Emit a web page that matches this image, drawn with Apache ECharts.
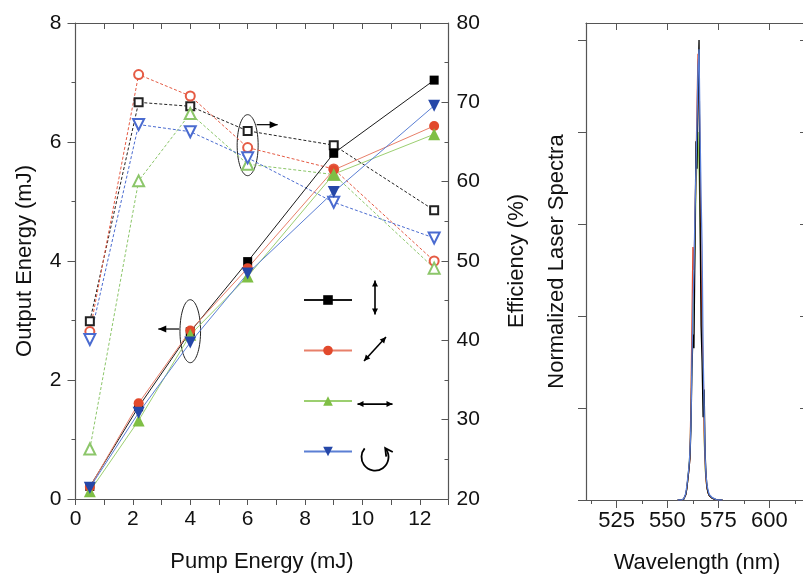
<!DOCTYPE html>
<html><head><meta charset="utf-8">
<script src="https://cdn.jsdelivr.net/npm/echarts@6/dist/echarts.min.js"></script>
<style>html,body{margin:0;padding:0;background:#fff}#c{width:803px;height:577px}</style>
</head><body><div id="c"></div>
<script>
// ---------- data ----------
const pump = [0.5, 2.2, 4, 6, 9, 12.5];
// output energy (mJ), solid lines, filled markers
const outVertical   = [0.21, 1.55, 2.81, 3.99, 5.81, 7.04];
const outDiagonal   = [0.20, 1.61, 2.83, 3.88, 5.53, 6.27];
const outHorizontal = [0.13, 1.32, 2.76, 3.74, 5.46, 6.13];
const outCircular   = [0.19, 1.45, 2.63, 3.79, 5.16, 6.61];
// efficiency (%), dashed lines, open markers
const effVertical   = [42.4, 70.0, 69.5, 66.4, 64.6, 56.4];
const effDiagonal   = [41.1, 73.5, 70.8, 64.3, 61.6, 50.0];
const effHorizontal = [26.3, 60.1, 68.6, 62.2, 60.9, 49.1];
const effCircular   = [40.1, 67.2, 66.3, 63.0, 57.4, 52.9];
// tick labels
const pumpLabels = [0, 2, 4, 6, 8, 10, 12];
const wlMajor = [525, 550, 575, 600];
const wlMinor = [512.5, 537.5, 562.5, 587.5, 612.5];
const specTicks = [0, 0.2, 0.4, 0.6, 0.8, 1.0];
// normalized laser spectra
const wavelength = [555,556,557,558,558.5,559,559.5,560,560.5,561,561.5,562,562.5,563,563.5,564,564.5,565,565.5,566,566.5,567,567.5,568,568.5,569,569.5,570,570.5,571,572,573,574,575,577];
const specBlack = [0,0,0,0.002,0.005,0.012,0.025,0.045,0.065,0.09,0.15,0.28,0.36,0.33,0.55,0.78,0.72,0.9,1.0,0.62,0.38,0.3,0.18,0.24,0.1,0.05,0.025,0.015,0.01,0.007,0.004,0.002,0.001,0,0];
const specRed   = [0,0,0,0.002,0.006,0.012,0.025,0.045,0.065,0.09,0.2,0.38,0.55,0.5,0.6,0.72,0.85,0.97,0.88,0.76,0.5,0.35,0.3,0.15,0.08,0.04,0.025,0.015,0.01,0.006,0.004,0.002,0.001,0,0];
const specGreen = [0,0,0,0.002,0.006,0.012,0.025,0.045,0.07,0.1,0.18,0.32,0.4,0.46,0.55,0.68,0.74,0.8,0.72,0.62,0.48,0.4,0.26,0.14,0.07,0.04,0.025,0.015,0.01,0.006,0.004,0.002,0.001,0,0];
const specBlue  = [0,0,0,0.003,0.008,0.015,0.03,0.05,0.07,0.1,0.16,0.3,0.42,0.5,0.62,0.72,0.82,0.94,0.98,0.8,0.66,0.55,0.32,0.2,0.09,0.05,0.03,0.02,0.012,0.008,0.005,0.003,0.001,0,0];

// ---------- style ----------
const FONT = '"Liberation Sans", Arial, Helvetica, sans-serif';
const AX = '#555';
const C = {
  black: {m:'#000000', l:'#1a1a1a', o:'#222222'},
  red:   {m:'#e2492c', l:'#e8806a', o:'#e55b44'},
  green: {m:'#7fbf45', l:'#9ccf70', o:'#8cc66a'},
  blue:  {m:'#2547a8', l:'#5b7fd4', o:'#4a6bd0'}
};
const lbl = {color:'#111', fontFamily:FONT, fontSize:21};
const nameStyle = {color:'#111', fontFamily:FONT, fontSize:22};
const line = {show:true, onZero:false, lineStyle:{color:AX, width:1.2}};
const pairs = (xs, ys) => xs.map((x,i)=>[x, ys[i]]);

const chart = echarts.init(document.getElementById('c'), null, {renderer:'canvas'});

function outSeries(name, ys, col, sym, rot, size) {
  return {type:'line', name, xAxisIndex:0, yAxisIndex:0, data:pairs(pump, ys), z:4,
    symbol:sym, symbolRotate:rot, symbolSize:size, showSymbol:true,
    itemStyle:{color:col.m}, lineStyle:{color:col.l, width:1}};
}
function effSeries(name, ys, col, sym, rot, size) {
  return {type:'line', name, xAxisIndex:0, yAxisIndex:1, data:pairs(pump, ys), z:3,
    symbol:sym, symbolRotate:rot, symbolSize:size, showSymbol:true,
    itemStyle:{color:col.o, borderWidth:1}, lineStyle:{color:col.o, width:1, type:[3,2]}};
}
function specSeries(name, ys, color) {
  return {type:'line', name, xAxisIndex:2, yAxisIndex:2, data:pairs(wavelength, ys),
    showSymbol:false, symbol:'none', lineStyle:{color, width:1.3}};
}

const LEG_LEFT = 298, LEG_TOP = 289, LEG_H = 12, LEG_GAP = 39.7;

const option = {
  animation:false,
  backgroundColor:'#fff',
  grid:[
    {left:75.5, top:23, width:373, height:476, outerBoundsMode:'none', containLabel:false},
    {left:586, top:23, width:222, height:477, outerBoundsMode:'none', containLabel:false}
  ],
  legend:{
    left:LEG_LEFT, top:LEG_TOP, orient:'vertical', itemWidth:48, itemHeight:LEG_H, itemGap:LEG_GAP,
    data:['vertical','diagonal','horizontal','circular'],
    formatter:()=> '', selectedMode:false,
    textStyle:{fontSize:1}
  },
  xAxis:[
    {gridIndex:0, type:'value', position:'bottom', min:0, max:13, interval:1,
     axisLine:line, splitLine:{show:false},
     axisTick:{show:true, length:6, lineStyle:{color:AX}},
     axisLabel:Object.assign({}, lbl, {margin:10, showMaxLabel:true, formatter:v => pumpLabels.indexOf(v) >= 0 ? String(v) : ''}),
     name:'Pump Energy (mJ)', nameLocation:'middle', nameGap:52, nameTextStyle:nameStyle},
    {gridIndex:0, type:'value', position:'top', min:0, max:13, interval:1,
     axisLine:line, splitLine:{show:false},
     axisTick:{show:true, inside:true, length:6, lineStyle:{color:AX}},
     axisLabel:{show:false}},
    {gridIndex:1, type:'value', position:'bottom', min:510, max:619,
     axisLine:line, splitLine:{show:false},
     axisTick:{show:true, length:8, customValues:wlMajor, lineStyle:{color:AX}},
     axisLabel:Object.assign({}, lbl, {fontSize:22, margin:10, customValues:wlMajor}),
     name:'Wavelength (nm)', nameLocation:'middle', nameGap:52, nameTextStyle:nameStyle},
    {gridIndex:1, type:'value', position:'bottom', min:510, max:619,
     axisLine:{show:false}, splitLine:{show:false},
     axisTick:{show:true, length:4, customValues:wlMinor, lineStyle:{color:AX}},
     axisLabel:{show:false}},
    {gridIndex:1, type:'value', position:'top', min:510, max:619,
     axisLine:line, splitLine:{show:false},
     axisTick:{show:true, inside:true, length:7, customValues:wlMajor, lineStyle:{color:AX}},
     axisLabel:{show:false}},
    {gridIndex:1, type:'value', position:'top', min:510, max:619,
     axisLine:{show:false}, splitLine:{show:false},
     axisTick:{show:true, inside:true, length:4, customValues:wlMinor, lineStyle:{color:AX}},
     axisLabel:{show:false}}
  ],
  yAxis:[
    {gridIndex:0, type:'value', position:'left', min:0, max:8, interval:2,
     axisLine:line, splitLine:{show:false},
     axisTick:{show:true, length:8, lineStyle:{color:AX}},
     minorTick:{show:true, splitNumber:2, length:4, lineStyle:{color:AX}},
     minorSplitLine:{show:false},
     axisLabel:Object.assign({}, lbl, {margin:14}),
     name:'Output Energy (mJ)', nameLocation:'middle', nameRotate:90, nameGap:40, nameTextStyle:nameStyle},
    {gridIndex:0, type:'value', position:'right', min:20, max:80, interval:10,
     axisLine:line, splitLine:{show:false},
     axisTick:{show:true, inside:true, length:7, lineStyle:{color:AX}},
     minorTick:{show:true, splitNumber:2, length:4, lineStyle:{color:AX}},
     minorSplitLine:{show:false},
     axisLabel:Object.assign({}, lbl, {margin:8}),
     name:'Efficiency (%)', nameLocation:'middle', nameRotate:90, nameGap:57, nameTextStyle:nameStyle},
    {gridIndex:1, type:'value', position:'left', min:0, max:1.037,
     axisLine:line, splitLine:{show:false},
     axisTick:{show:true, length:8, customValues:specTicks, lineStyle:{color:AX}},
     axisLabel:{show:false, customValues:specTicks},
     name:'Normalized Laser Spectra', nameLocation:'middle', nameRotate:90, nameGap:18, nameTextStyle:nameStyle},
    {gridIndex:1, type:'value', position:'right', min:0, max:1.037,
     axisLine:line, splitLine:{show:false},
     axisTick:{show:true, inside:true, length:8, customValues:specTicks, lineStyle:{color:AX}},
     axisLabel:{show:false}}
  ],
  series:[
    effSeries('eff-vertical', effVertical, C.black, 'emptyRect', 0, 8),
    effSeries('eff-diagonal', effDiagonal, C.red, 'emptyCircle', 0, 9),
    effSeries('eff-horizontal', effHorizontal, C.green, 'emptyTriangle', 0, 11),
    effSeries('eff-circular', effCircular, C.blue, 'emptyTriangle', 180, 11),
    outSeries('vertical', outVertical, C.black, 'rect', 0, 9),
    outSeries('diagonal', outDiagonal, C.red, 'circle', 0, 10),
    outSeries('horizontal', outHorizontal, C.green, 'triangle', 0, 12),
    outSeries('circular', outCircular, C.blue, 'triangle', 180, 12),
    specSeries('spec-green', specGreen, '#86c34f'),
    specSeries('spec-red', specRed, '#e2492c'),
    specSeries('spec-black', specBlack, '#000000'),
    specSeries('spec-blue', specBlue, '#5a7fd8')
  ]
};
chart.setOption(option);

// ---------- annotations ----------
function ellipse(cx, cy, rx, ry) {
  const pts = [];
  for (let i = 0; i <= 72; i++) { const a = i / 72 * 2 * Math.PI; pts.push([cx + rx * Math.cos(a), cy + ry * Math.sin(a)]); }
  return {type:'polyline', shape:{points:pts}, style:{stroke:'#222', lineWidth:1, fill:null}, silent:true};
}
function head(x, y, dx, dy, len, hw) {
  const n = Math.hypot(dx, dy); dx /= n; dy /= n;
  const bx = x - dx * len, by = y - dy * len;
  return {type:'polygon', shape:{points:[[x, y], [bx - dy * hw, by + dx * hw], [bx + dy * hw, by - dx * hw]]}, style:{fill:'#000'}, silent:true};
}
function arrow(x1, y1, x2, y2, len, hw, both, lw) {
  const els = [{type:'line', shape:{x1, y1, x2, y2}, style:{stroke:'#000', lineWidth:lw || 1.3}, silent:true}];
  els.push(head(x2, y2, x2 - x1, y2 - y1, len, hw));
  if (both) els.push(head(x1, y1, x1 - x2, y1 - y2, len, hw));
  return els;
}
const g = [];
const e1 = chart.convertToPixel({xAxisIndex:0, yAxisIndex:1}, [6, 64.6]);
g.push(ellipse(e1[0], e1[1], 10.5, 30.5));
g.push(...arrow(e1[0] + 9, e1[1] - 20.5, e1[0] + 30, e1[1] - 20.5, 8, 3.5, false, 1.2));
const e2 = chart.convertToPixel({xAxisIndex:0, yAxisIndex:0}, [4, 2.82]);
g.push(ellipse(e2[0], e2[1], 10.3, 31.5));
g.push(...arrow(e2[0] - 11, e2[1] - 2.2, e2[0] - 32, e2[1] - 2.2, 8, 3.5, false, 1.2));

// legend polarization glyphs (next to each legend row)
const gx = 375;
const rowY = i => LEG_TOP + 5 + LEG_H / 2 + i * (LEG_H + LEG_GAP);
g.push(...arrow(gx, rowY(0) - 2.5 + 17, gx, rowY(0) - 2.5 - 17, 6, 3, true, 1.6));
g.push(...arrow(gx - 11, rowY(1) - 2.7 + 12, gx + 11, rowY(1) - 2.7 - 12, 6, 3, true, 1.6));
g.push(...arrow(gx - 17.5, rowY(2) + 0.7, gx + 17.5, rowY(2) + 0.7, 6, 3, true, 1.6));
const cy4 = rowY(3) + 2, r4 = 13.5;
g.push({type:'arc', shape:{cx:gx, cy:cy4, r:r4, startAngle:-35 * Math.PI / 180, endAngle:220 * Math.PI / 180, clockwise:true},
  style:{stroke:'#000', lineWidth:1.8, fill:null}, silent:true});
{
  const a = -35 * Math.PI / 180;
  const tx = gx + r4 * Math.cos(a), ty = cy4 + r4 * Math.sin(a);
  const dx = Math.sin(a), dy = -Math.cos(a);
  const L = 6, W = 4;
  const px = tx - dx * L, py = ty - dy * L;
  g.push({type:'polyline', shape:{points:[[px - dy * W, py + dx * W], [tx + dx * 1.5, ty + dy * 1.5], [px + dy * W, py - dx * W]]},
    style:{stroke:'#000', lineWidth:1.8, fill:null}, silent:true});
}
chart.setOption({graphic:g});
</script>
</body></html>
